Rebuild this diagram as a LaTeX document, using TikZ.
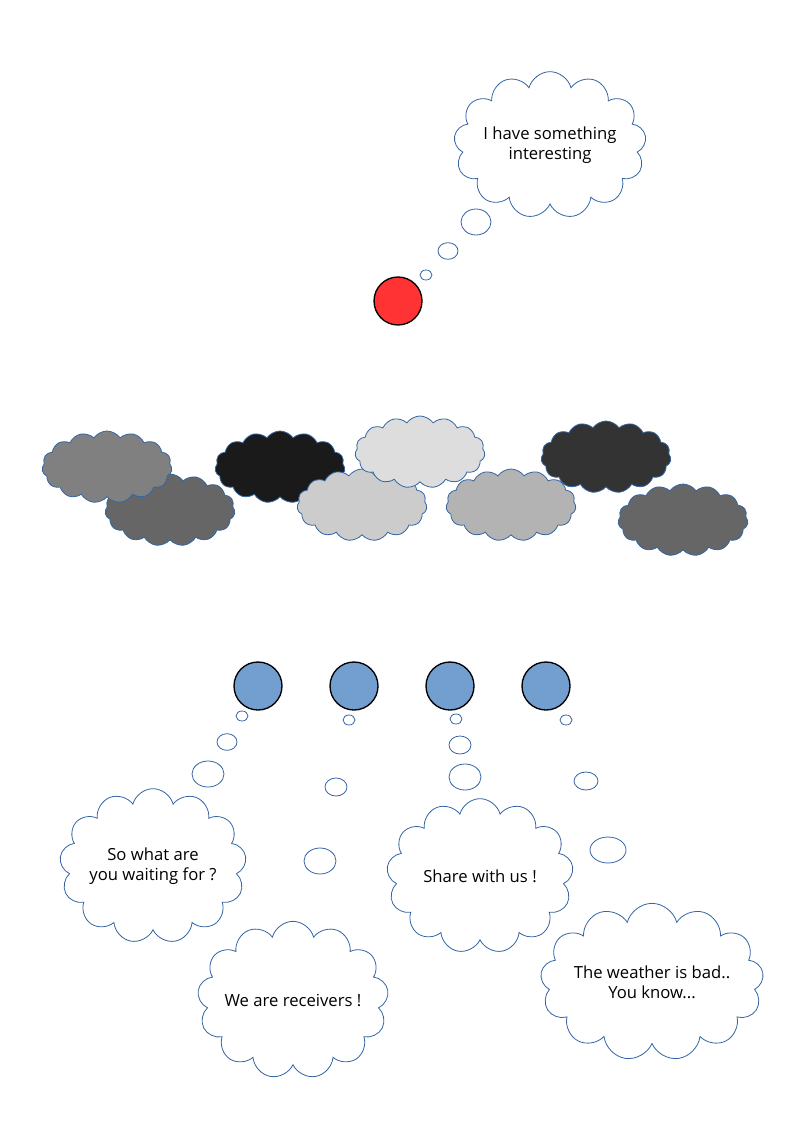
\documentclass[tikz,border=0pt]{standalone}
\usepackage{fontspec}
\setmainfont{Open Sans}
\usetikzlibrary{shapes.symbols, shapes.geometric, positioning}

\definecolor{outline}{HTML}{3465A4}
\definecolor{senderred}{HTML}{FF3333}
\definecolor{receiverblue}{HTML}{729FCF}

\begin{document}
\begin{tikzpicture}[
    x=0.75pt, y=-0.75pt,
    thought/.style={cloud, cloud puffs=13, cloud ignores aspect, draw=outline,
        line width=0.6pt, fill=white, inner sep=0pt, align=center,
        font=\fontsize{12.5}{15}\selectfont},
    skycloud/.style={cloud, cloud puffs=15, cloud puff arc=110, cloud ignores aspect,
        draw=outline, line width=0.6pt, inner sep=0pt,
        minimum width=97.5pt, minimum height=54pt},
    puff/.style={ellipse, draw=outline, line width=0.6pt, fill=white, inner sep=0pt},
    station/.style={circle, draw=black, line width=1pt, minimum size=36pt, inner sep=0pt},
    sender/.style={station, fill=senderred},
    receiver/.style={station, fill=receiverblue}
]
\useasboundingbox (0,0) rectangle (794,1123);

% Sender and its thought
\node[sender] (tx) at (398,301) {};
\node[thought, minimum width=125pt, minimum height=110pt] (txthought) at (550,145)
    {I have something\\interesting};
\node[puff, minimum width=9pt, minimum height=7.5pt] (txp1) at (426,275) {};
\node[puff, minimum width=15pt, minimum height=12.5pt] (txp2) at (448,251) {};
\node[puff, minimum width=22.5pt, minimum height=19.5pt] (txp3) at (476,222) {};

% Weather clouds (back to front)
\foreach \cx/\cy/\shade/\name in {
    170/510/666666/c2, 107/467/808080/c1, 280/467/1A1A1A/c3,
    362/505/CCCCCC/c5, 420/452/DDDDDD/c4, 511/505/B3B3B3/c6,
    606/457/333333/c7, 683/520/666666/c8}{
  \definecolor{shadecol}{HTML}{\shade}
  \node[skycloud, fill=shadecol] (\name) at (\cx,\cy) {};
}

% Receivers
\node[receiver] (rx1) at (258,686) {};
\node[receiver] (rx2) at (354,686) {};
\node[receiver] (rx3) at (450,686) {};
\node[receiver] (rx4) at (546,686) {};

% Receiver thoughts
\node[thought, minimum width=140pt, minimum height=116pt] (rxthought1) at (153,866)
    {So what are\\you waiting for ?};
\node[thought, minimum width=140pt, minimum height=118pt] (rxthought2) at (293,1000)
    {We are receivers !};
\node[thought, minimum width=140pt, minimum height=116pt] (rxthought3) at (480,876)
    {Share with us !};
\node[thought, minimum width=152pt, minimum height=118pt] (rxthought4) at (652,982)
    {The weather is bad..\\You know...};

% Bubbles between receivers and thoughts
\foreach \px/\py/\pw/\ph/\name in {
    242/716/9/7.5/a1, 227/742/15/12.5/a2, 208/774/24/19.5/a3,
    349/720/9/7.5/b1, 336/787/16.5/13.5/b2, 320/861/24/19.5/b3,
    456/719/9/7.5/c1, 460/745/16.5/13.5/c2, 465/777/24/19.5/c3,
    566/720/9/7.5/d1, 586/781/18/13.5/d2, 608/850/27/19.5/d3}{
  \node[puff, minimum width=\pw pt, minimum height=\ph pt] (rxp\name) at (\px,\py) {};
}

\end{tikzpicture}
\end{document}
